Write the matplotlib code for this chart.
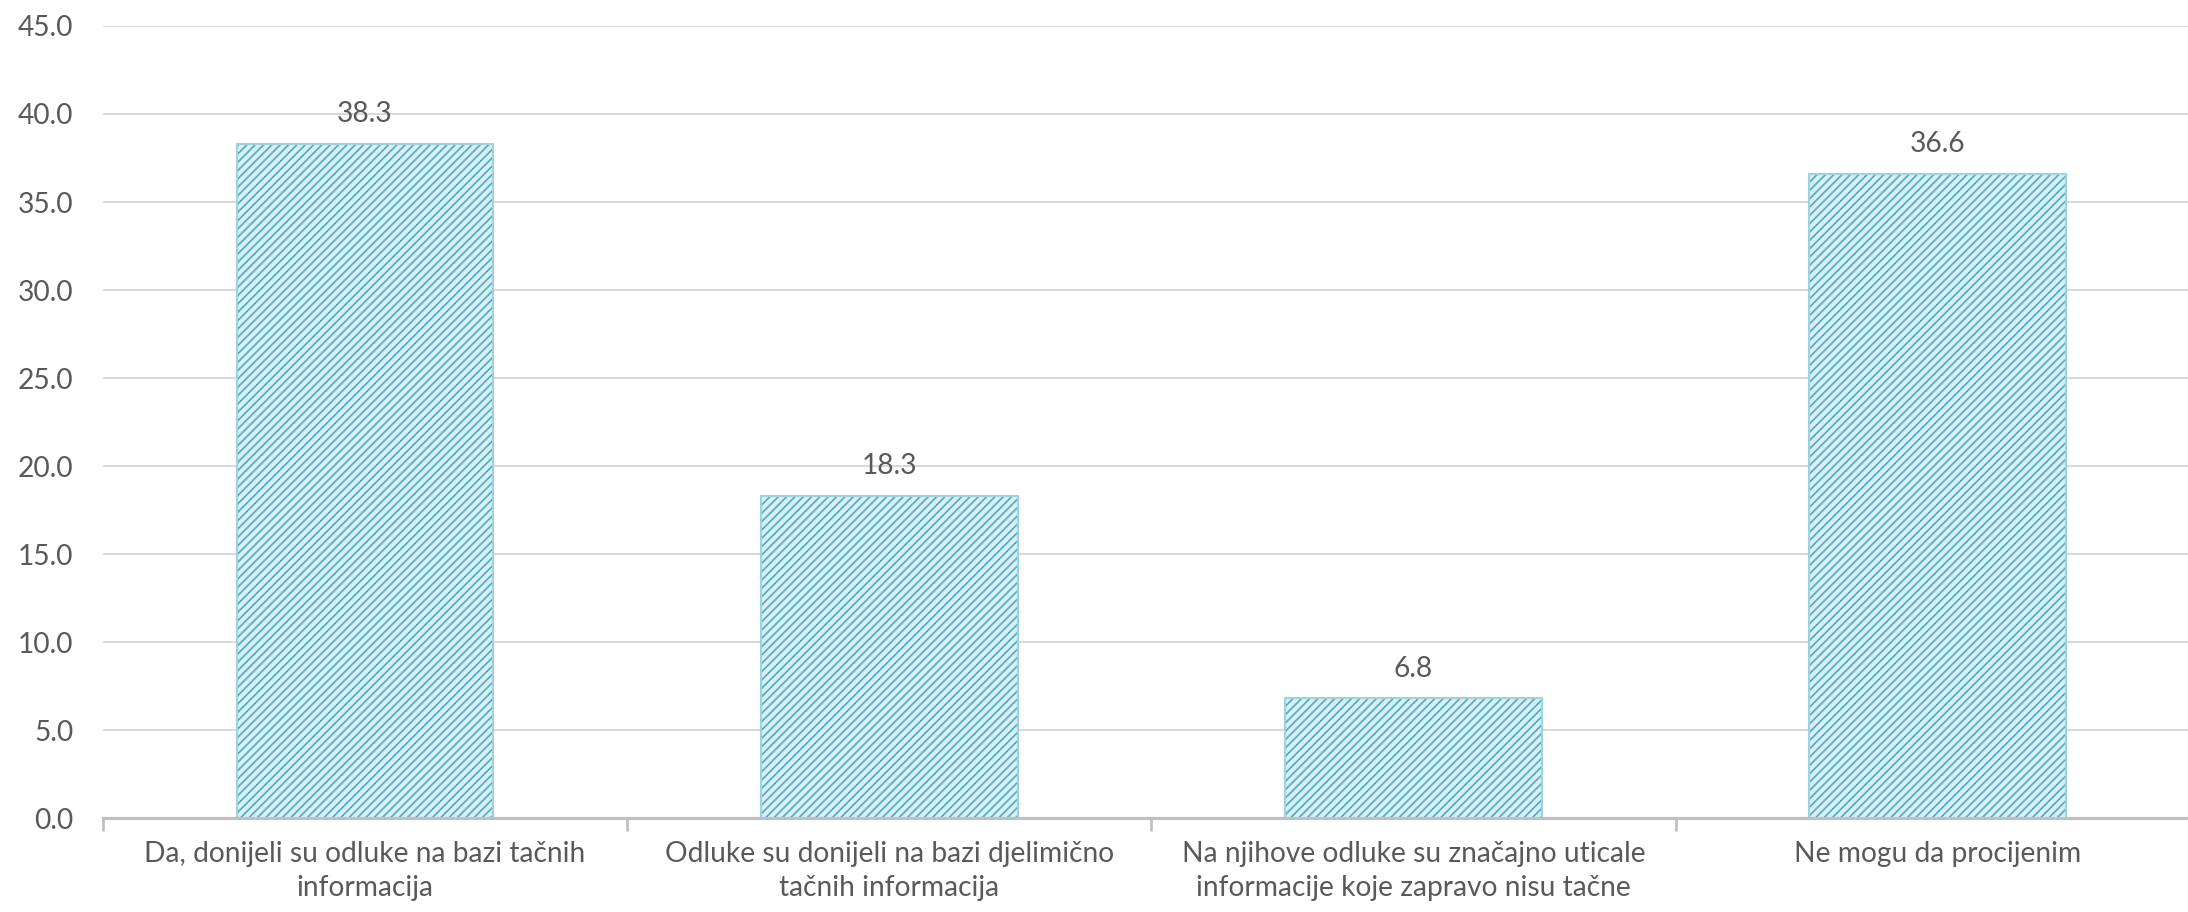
import matplotlib.pyplot as plt
import numpy as np

categories = ["Da, donijeli su odluke na bazi tačnih\ninformacija",
              "Odluke su donijeli na bazi djelimično\ntačnih informacija",
              "Na njihove odluke su značajno uticale\ninformacije koje zapravo nisu tačne",
              "Ne mogu da procijenim"]
values = [38.3, 18.3, 6.8, 36.6]
yticks = np.arange(0, 50, 5)

plt.rcParams['font.family'] = ['Lato', 'DejaVu Sans']
plt.rcParams['hatch.linewidth'] = 0.8
grey = "#595959"
fs = 13.5

fig = plt.figure(figsize=(14.587, 6.08), dpi=150)
ax = fig.add_axes([0.047, 0.103, 0.9585, 0.8685])

x = np.arange(len(categories))
# hatched fill, then a lighter outline on top
bars = ax.bar(x, values, width=0.49, color="#DAEEF3", edgecolor="#4BACC6",
              hatch="//////", linewidth=0, zorder=3)
ax.bar(x, values, width=0.49, fill=False, edgecolor="#9DD3E0",
       linewidth=1.0, zorder=3)
ax.bar_label(bars, labels=["%.1f" % v for v in values], padding=8,
             fontsize=fs, color=grey)

ax.set_xlim(-0.5, 3.5)
ax.set_ylim(0, 45)
ax.set_yticks(yticks)
ax.set_yticklabels(["%.1f" % t for t in yticks])
ax.set_xticks(x)
ax.set_xticklabels(categories)
ax.set_xticks(np.arange(-0.5, 3.5, 1), minor=True)

ax.tick_params(axis="y", length=0, pad=14, labelsize=fs, labelcolor=grey)
ax.tick_params(axis="x", which="major", length=0, pad=11, labelsize=fs, labelcolor=grey)
ax.tick_params(axis="x", which="minor", length=6, width=1.3, color="#BFBFBF")
for lbl in ax.get_xticklabels():
    lbl.set_linespacing(1.4)

ax.grid(axis="y", color="#D9D9D9", linewidth=1.0, zorder=0)
ax.set_axisbelow(True)
for s in ["top", "right", "left"]:
    ax.spines[s].set_visible(False)
ax.spines["bottom"].set_color("#BFBFBF")
ax.spines["bottom"].set_linewidth(1.5)
ax.spines["bottom"].set_zorder(4)

fig.savefig("out.png", dpi=150)
